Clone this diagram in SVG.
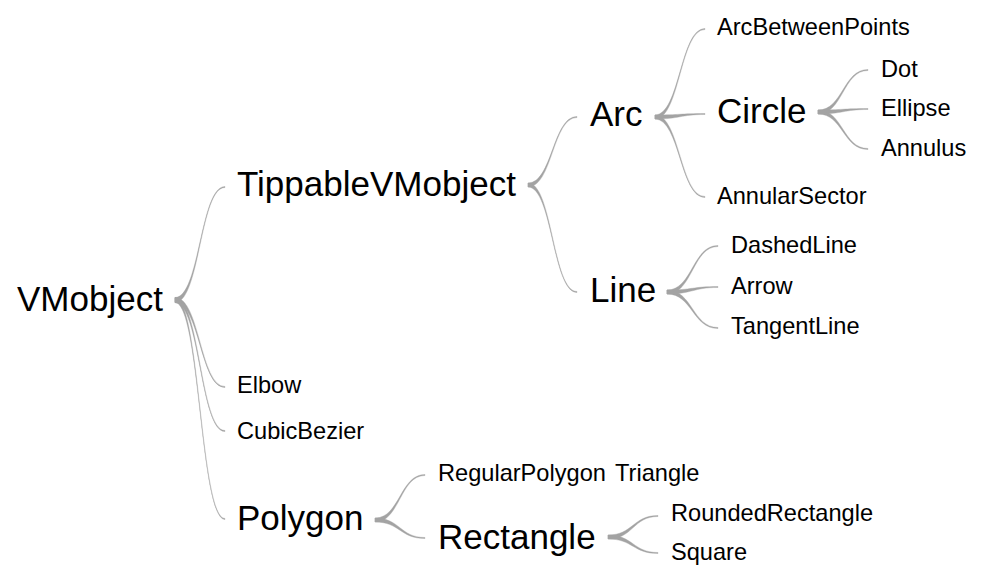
<svg xmlns="http://www.w3.org/2000/svg" width="990" height="586" viewBox="0 0 990 586">
<style>
text{font-family:"Liberation Sans",Arial,sans-serif;fill:#000}
.big{font-size:35px}
.small{font-size:23.6px}
.link{fill:#a3a3a3;stroke:#a3a3a3;stroke-width:0.4}
</style>
<rect width="990" height="586" fill="#fff"/>
<g id="connectors">
<path class="link" d="M175,297.5 C200,297.5 200,186.5 225,186.5 L225,187.5 C200,187.5 200,302.5 175,302.5Z"/>
<path class="link" d="M175,297.5 C200,297.5 200,386.5 225,386.5 L225,387.5 C200,387.5 200,302.5 175,302.5Z"/>
<path class="link" d="M175,297.5 C200,297.5 200,430.5 225,430.5 L225,431.5 C200,431.5 200,302.5 175,302.5Z"/>
<path class="link" d="M175,297.5 C200,297.5 200,518.5 225,518.5 L225,519.5 C200,519.5 200,302.5 175,302.5Z"/>
<path class="link" d="M528,183 C552.5,183 552.5,116.5 577,116.5 L577,117.5 C552.5,117.5 552.5,187 528,187Z"/>
<path class="link" d="M528,183 C552.5,183 552.5,291.5 577,291.5 L577,292.5 C552.5,292.5 552.5,187 528,187Z"/>
<path class="link" d="M655,115 C680,115 680,28.5 705,28.5 L705,29.5 C680,29.5 680,119 655,119Z"/>
<path class="link" d="M655,115 C680,115 680,113.5 705,113.5 L705,114.5 C680,114.5 680,119 655,119Z"/>
<path class="link" d="M655,115 C680,115 680,196.5 705,196.5 L705,197.5 C680,197.5 680,119 655,119Z"/>
<path class="link" d="M818,110 C843,110 843,69.5 868,69.5 L868,70.5 C843,70.5 843,114 818,114Z"/>
<path class="link" d="M818,110 C843,110 843,108.5 868,108.5 L868,109.5 C843,109.5 843,114 818,114Z"/>
<path class="link" d="M818,110 C843,110 843,148.5 868,148.5 L868,149.5 C843,149.5 843,114 818,114Z"/>
<path class="link" d="M667,290 C692.5,290 692.5,245.5 718,245.5 L718,246.5 C692.5,246.5 692.5,294 667,294Z"/>
<path class="link" d="M667,290 C692.5,290 692.5,286.5 718,286.5 L718,287.5 C692.5,287.5 692.5,294 667,294Z"/>
<path class="link" d="M667,290 C692.5,290 692.5,327.5 718,327.5 L718,328.5 C692.5,328.5 692.5,294 667,294Z"/>
<path class="link" d="M375,518 C400,518 400,474.5 425,474.5 L425,475.5 C400,475.5 400,522 375,522Z"/>
<path class="link" d="M375,518 C400,518 400,537.5 425,537.5 L425,538.5 C400,538.5 400,522 375,522Z"/>
<path class="link" d="M608,535 C633,535 633,515.5 658,515.5 L658,516.5 C633,516.5 633,539 608,539Z"/>
<path class="link" d="M608,535 C633,535 633,552.5 658,552.5 L658,553.5 C633,553.5 633,539 608,539Z"/>
</g>
<g id="n-vmobject"><text class="big" x="17" y="311">VMobject</text></g>
<g id="n-tippable"><text class="big" x="237" y="196">TippableVMobject</text></g>
<g id="n-elbow"><text class="small" x="237" y="393">Elbow</text></g>
<g id="n-cubicbezier"><text class="small" x="237" y="439">CubicBezier</text></g>
<g id="n-polygon"><text class="big" x="237" y="530">Polygon</text></g>
<g id="n-arc"><text class="big" x="590" y="126">Arc</text></g>
<g id="n-line"><text class="big" x="590" y="302">Line</text></g>
<g id="n-arcbetweenpoints"><text class="small" x="717" y="35">ArcBetweenPoints</text></g>
<g id="n-circle"><text class="big" x="717" y="123">Circle</text></g>
<g id="n-annularsector"><text class="small" x="717" y="204">AnnularSector</text></g>
<g id="n-dot"><text class="small" x="881" y="77">Dot</text></g>
<g id="n-ellipse"><text class="small" x="881" y="116">Ellipse</text></g>
<g id="n-annulus"><text class="small" x="881" y="156">Annulus</text></g>
<g id="n-dashedline"><text class="small" x="731" y="253">DashedLine</text></g>
<g id="n-arrow"><text class="small" x="731" y="294">Arrow</text></g>
<g id="n-tangentline"><text class="small" x="731" y="334">TangentLine</text></g>
<g id="n-regularpolygon"><text class="small" x="438" y="481">RegularPolygon<tspan x="615">Triangle</tspan></text></g>
<g id="n-rectangle"><text class="big" x="438" y="549">Rectangle</text></g>
<g id="n-roundedrectangle"><text class="small" x="671" y="521">RoundedRectangle</text></g>
<g id="n-square"><text class="small" x="671" y="560">Square</text></g>
</svg>
